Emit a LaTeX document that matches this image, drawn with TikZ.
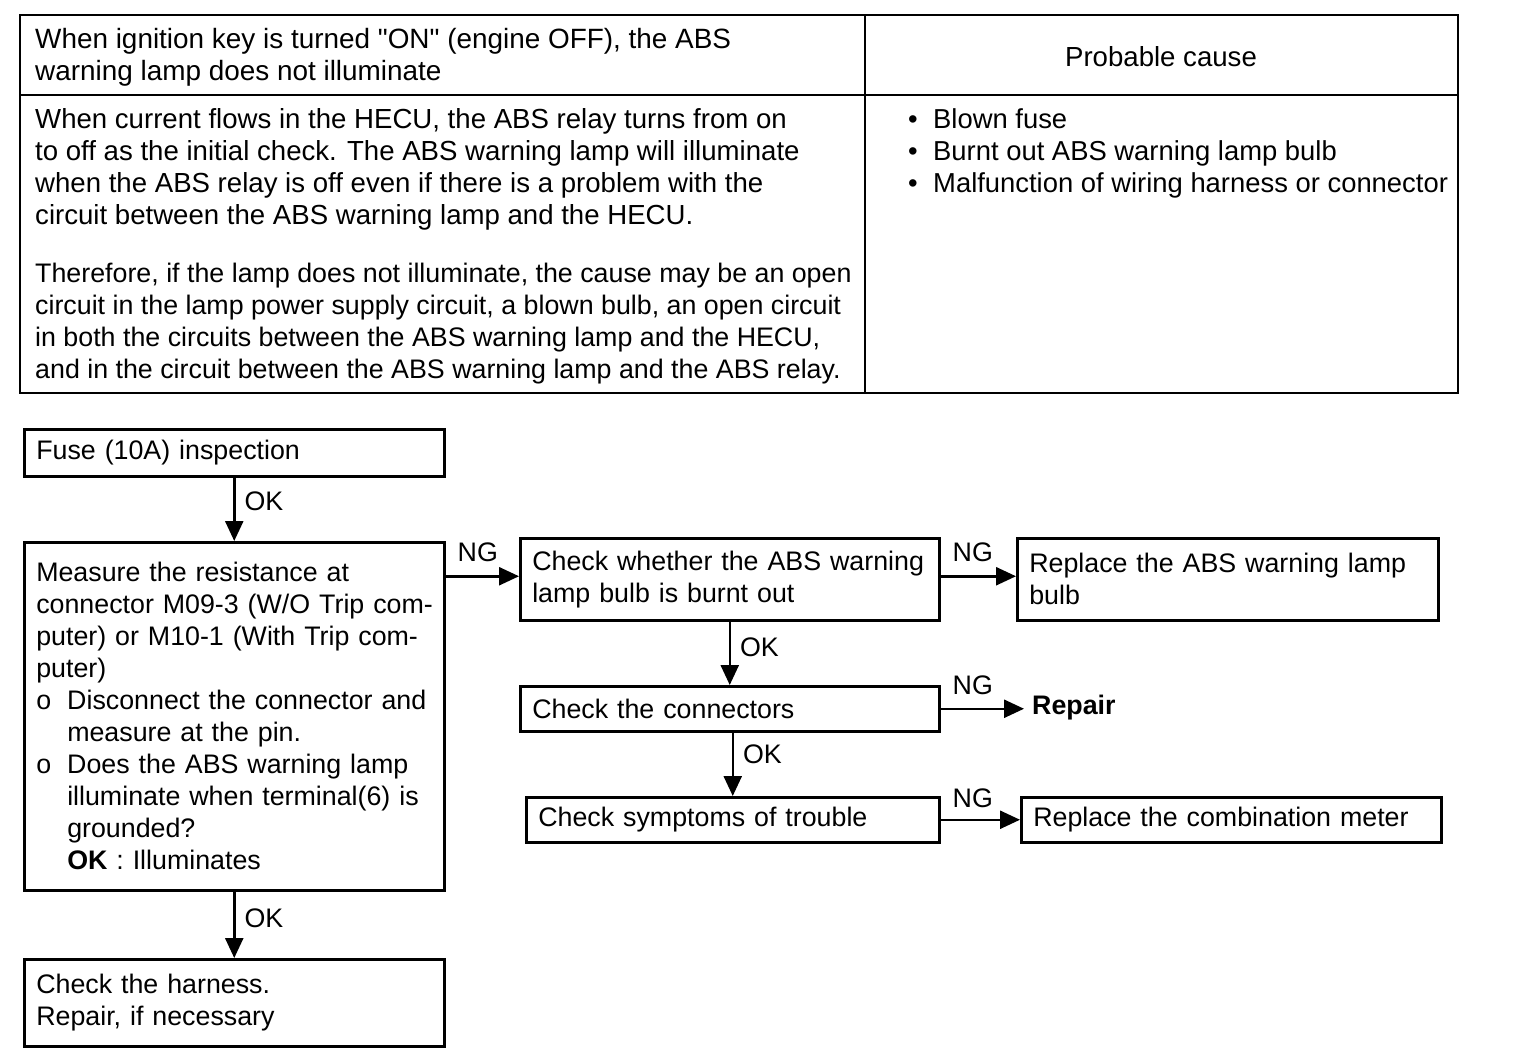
\documentclass[tikz,border=0pt]{standalone}
\usepackage{fontspec}
\setmainfont{Liberation Sans}
\usetikzlibrary{arrows.meta}
\newcommand{\bul}{\makebox[25pt][l]{•}}
\newcommand{\oo}{\makebox[31pt][l]{o}}
\newcommand{\ind}{\hspace*{31pt}}
\begin{document}
\begin{tikzpicture}[x=1pt,y=-1pt, font=\fontsize{26.8}{32}\selectfont,
  box/.style={draw, line width=2.5pt, anchor=north west, inner xsep=12pt, inner ysep=0pt, align=left},
  arr/.style={line width=2.5pt, -{Triangle[length=20pt,width=18pt]}},
  lbl/.style={inner sep=0pt},
  txt/.style={inner sep=0pt, align=left, anchor=west, font=\fontsize{27.6}{32}\selectfont}]
\useasboundingbox[fill=white] (0,0) rectangle (1536,1054);
% table
\draw[line width=2pt] (20,15) rectangle (1458,393);
\draw[line width=2pt] (865,15) -- (865,393);
\draw[line width=2pt] (20,95) -- (1458,95);
\node[txt, font=\fontsize{27.9}{32}\selectfont] (h1) at (35,57) {When ignition key is turned \textquotedbl ON\textquotedbl\ (engine OFF), the ABS\\warning lamp does not illuminate};
\node[inner sep=0pt, font=\fontsize{27.6}{32}\selectfont] (h2) at (1161,57) {Probable cause};
\node[txt] (b1) at (35,169) {When current flows in the HECU, the ABS relay turns from on\\to off as the initial check. The ABS warning lamp will illuminate\\when the ABS relay is off even if there is a problem with the\\circuit between the ABS warning lamp and the HECU.};
\node[txt, font=\fontsize{26.8}{32}\selectfont] (b2) at (35,324) {Therefore, if the lamp does not illuminate, the cause may be an open\\circuit in the lamp power supply circuit, a blown bulb, an open circuit\\in both the circuits between the ABS warning lamp and the HECU,\\and in the circuit between the ABS warning lamp and the ABS relay.};
\node[txt, font=\fontsize{27.4}{32}\selectfont] (b3) at (908,153) {\bul Blown fuse\\\bul Burnt out ABS warning lamp bulb\\\bul Malfunction of wiring harness or connector};
% flowchart
\node[box, text width=396pt, minimum height=47pt] (A) at (23,428) {Fuse (10A) inspection};
\node[box, text width=396pt, minimum height=348pt] (B) at (23,541) {\mbox{Measure the resistance at}\\\mbox{connector M09-3 (W/O Trip com-}\\\mbox{puter) or M10-1 (With Trip com-}\\\mbox{puter)}\\\mbox{\oo Disconnect the connector and}\\\mbox{\ind measure at the pin.}\\\mbox{\oo Does the ABS warning lamp}\\\mbox{\ind illuminate when terminal(6) is}\\\mbox{\ind grounded?}\\\mbox{\ind\textbf{OK} : Illuminates}};
\node[box, text width=396pt, minimum height=87pt] (C) at (23,958) {Check the harness.\\Repair, if necessary};
\node[box, text width=395pt, minimum height=82pt] (D) at (519,537) {\mbox{Check whether the ABS warning}\\lamp bulb is burnt out};
\node[box, text width=397pt, minimum height=82pt] (E) at (1016,537) {\mbox{Replace the ABS warning lamp}\\bulb};
\node[box, text width=395pt, minimum height=45pt] (F) at (519,685) {Check the connectors};
\node[box, text width=389pt, minimum height=45pt] (G) at (525,796) {Check symptoms of trouble};
\node[box, text width=396pt, minimum height=45pt] (H) at (1020,796) {\mbox{Replace the combination meter}};
\node[inner sep=0pt, anchor=west, font=\fontsize{26.8}{32}\selectfont\bfseries] (R) at (1032,708) {Repair};
% connectors
\draw[arr] (A.south) -- node[lbl, right=9pt, pos=0.38] {OK} (B.north);
\draw[arr] (B.south) -- node[lbl, right=9pt, pos=0.4] {OK} (C.north);
\coordinate (bd) at ([yshift=3pt]B.east |- D.west);
\draw[arr] (bd) -- (bd -| D.west);
\node[lbl, anchor=south west] at ([xshift=12pt,yshift=14pt]bd) {NG};
\draw[arr] ([yshift=3pt]D.east) -- ([yshift=3pt]E.west);
\node[lbl, anchor=south west] at ([xshift=12pt,yshift=17pt]D.east) {NG};
\draw[arr] (D.south) -- node[lbl, right=9pt, pos=0.4] {OK} (F.north);
\coordinate (fr) at ([xshift=-8pt]R.west);
\draw[arr] (F.east) -- (F.east -| fr);
\node[lbl, anchor=south west] at ([xshift=12pt,yshift=14pt]F.east) {NG};
\draw[arr] (F.south -| G.north) -- node[lbl, right=9pt, pos=0.35] {OK} (G.north);
\draw[arr] (G.east) -- (H.west);
\node[lbl, anchor=south west] at ([xshift=12pt,yshift=12pt]G.east) {NG};
\end{tikzpicture}
\end{document}
